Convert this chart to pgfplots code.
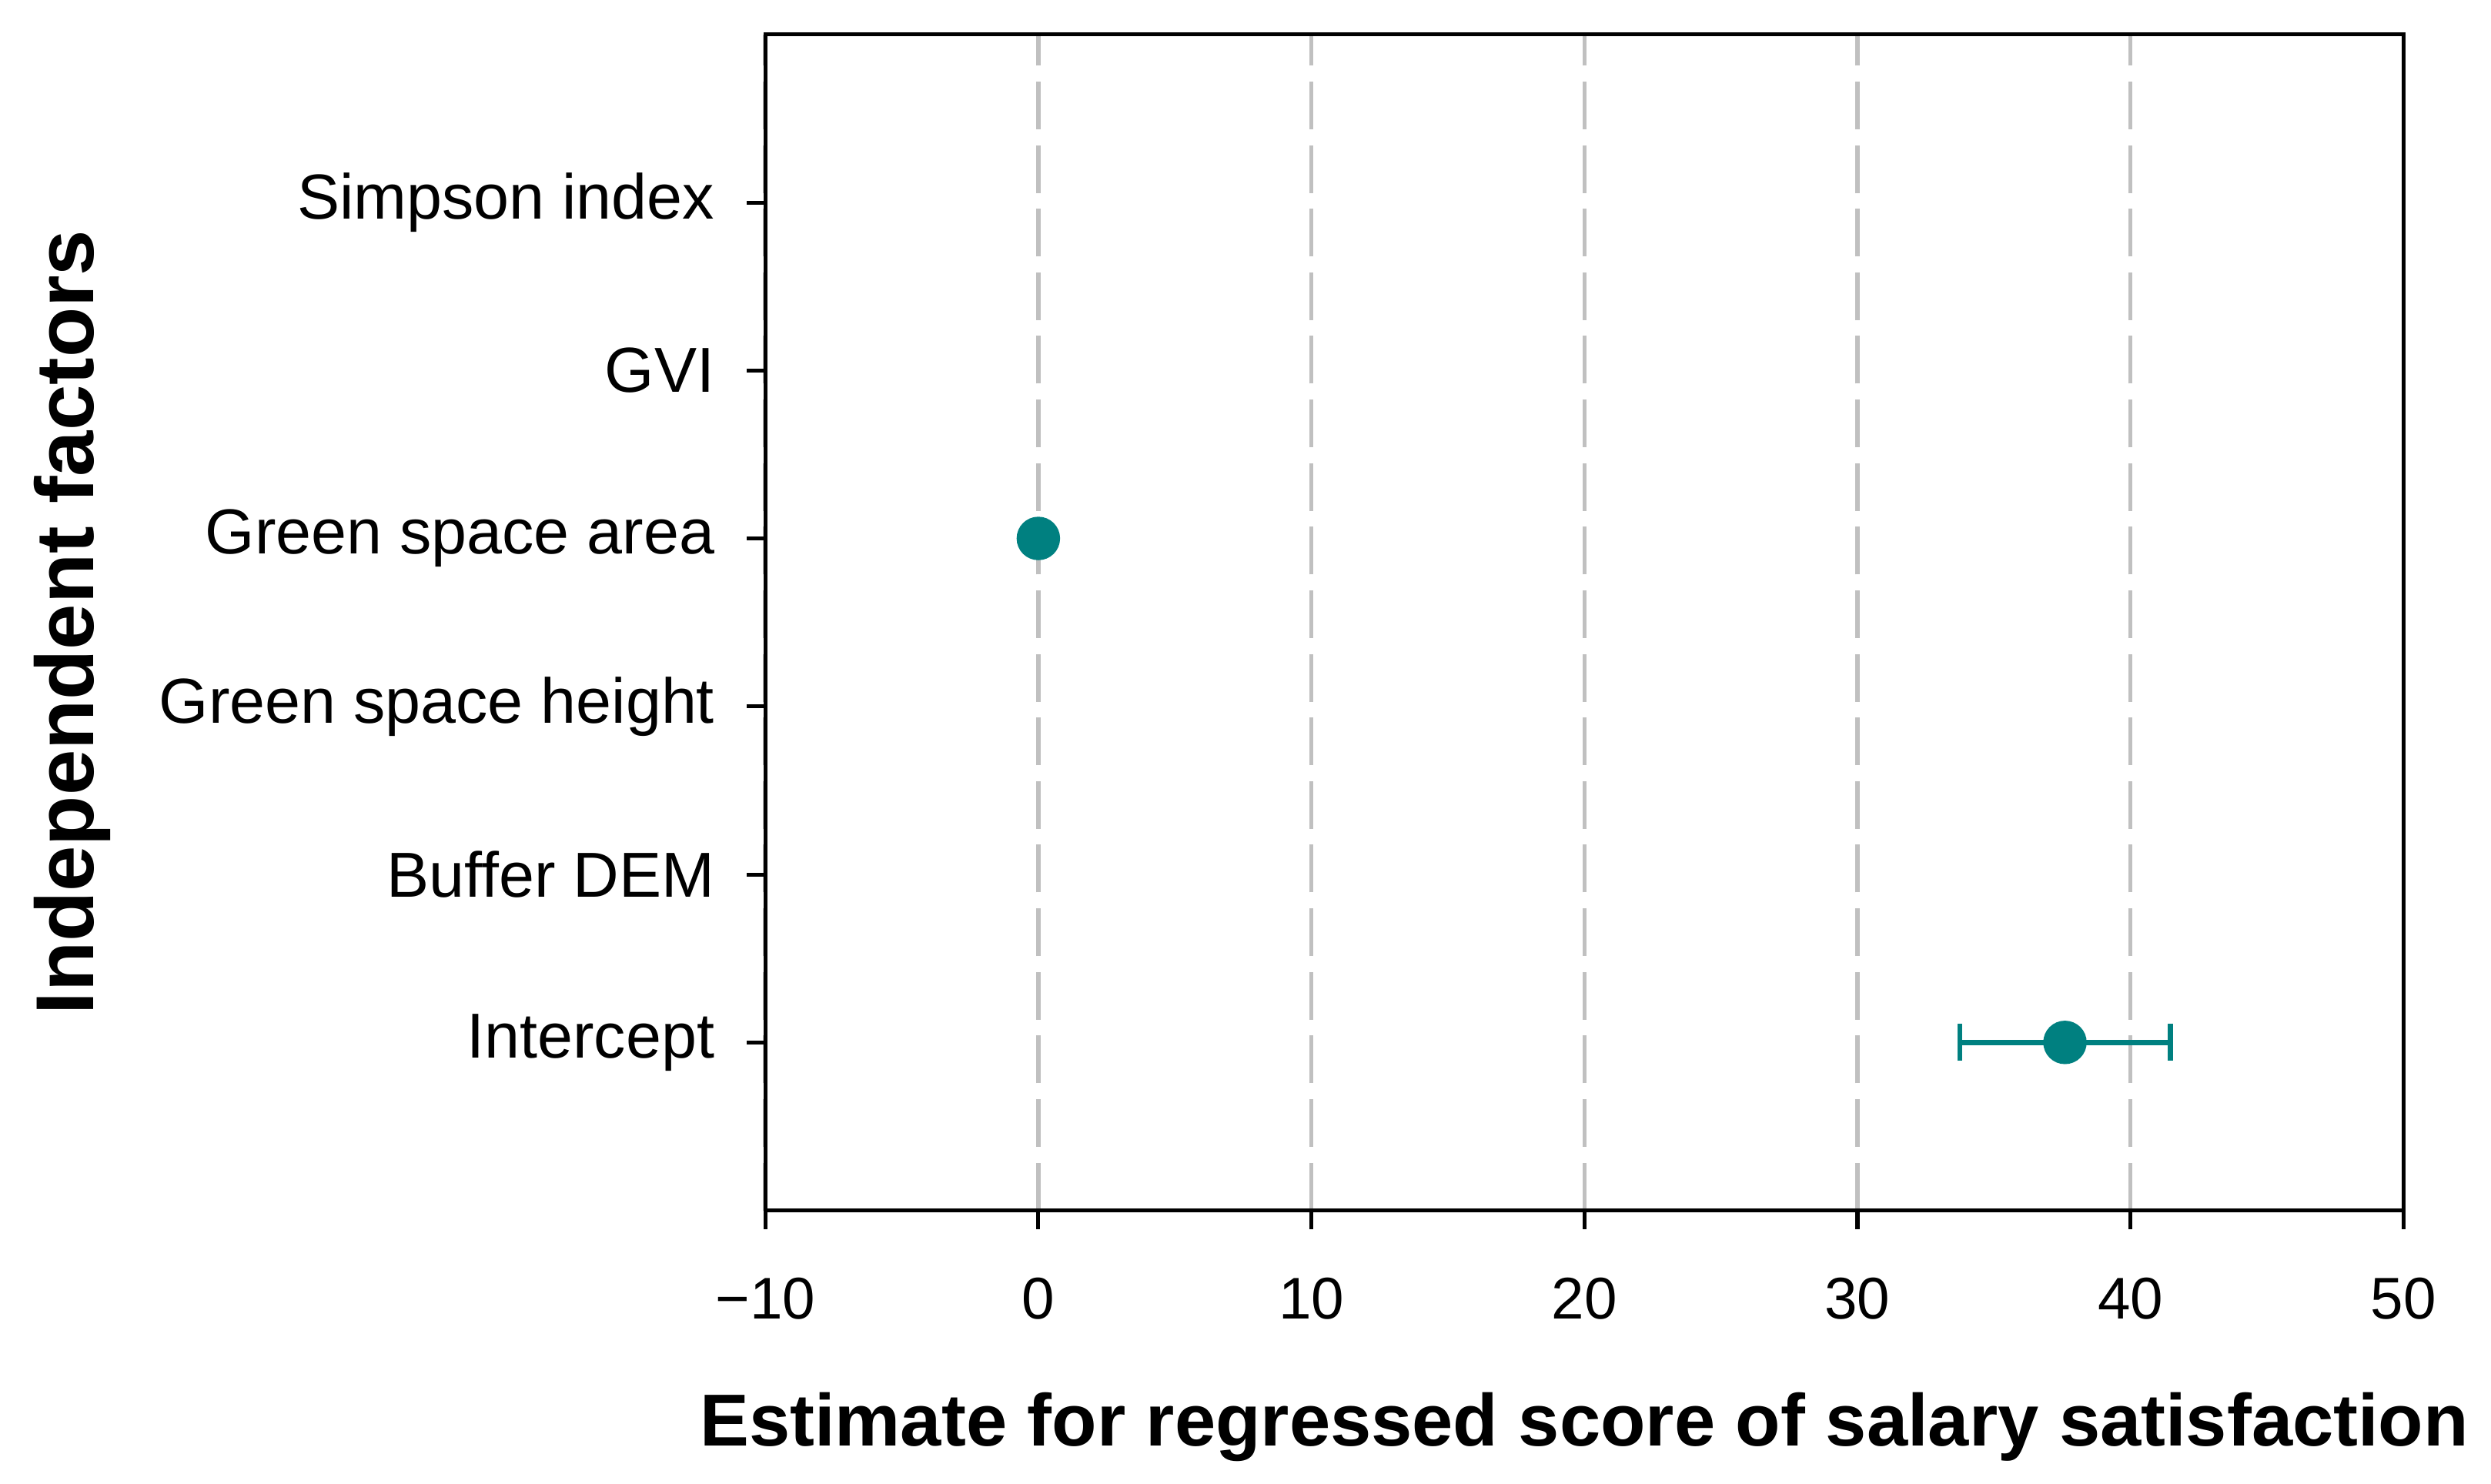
\documentclass[border=0pt]{standalone}
\usepackage{fontspec}
\setmainfont{Liberation Sans}
\usepackage{pgfplots}
\pgfplotsset{compat=1.18}
\definecolor{ptcol}{RGB}{0,128,128}
\definecolor{gridgray}{RGB}{192,192,192}

\begin{document}
\begin{tikzpicture}
	\useasboundingbox (-144.4pt,-51.6pt) rectangle (325.6pt,228.4pt);
	\begin{axis}[
		at={(0,0)}, anchor=south west,
		scale only axis,
		width=309.1pt, height=221.9pt,
		xmin=-10, xmax=50, ymin=0, ymax=7,
		xtick={-10,0,10,20,30,40,50},
		xticklabels={−10,0,10,20,30,40,50},
		ytick={1,2,3,4,5,6},
		yticklabels={Intercept,Buffer DEM,Green space height,Green space area,GVI,Simpson index},
		tick align=outside,
		xtick pos=bottom, ytick pos=left,
		major tick length=3.5pt,
		tick style={black, line width=0.73pt},
		axis line style={line width=0.75pt},
		xmajorgrids,
		major grid style={draw=gridgray, line width=0.8pt, dash pattern=on 9pt off 3pt},
		xticklabel style={font=\fontsize{11.1}{13}\selectfont, anchor=base, yshift=-17pt},
		yticklabel style={font=\fontsize{12}{14}\selectfont, anchor=east, inner sep=0pt, xshift=-5.9pt},
		xlabel={Estimate for regressed score of salary satisfaction},
		ylabel={Independent factors},
		xlabel style={at={(axis description cs:0.5,-0.2002)}, anchor=base,
			font=\bfseries\fontsize{13.9}{16}\selectfont},
		ylabel style={at={(axis description cs:-0.41,0.5)}, anchor=base,
			font=\bfseries\fontsize{15.5}{18}\selectfont},
		]
		% estimate, row, half-width of the interval
		\addplot[only marks, mark=*, mark size=3.9pt, color=ptcol,
		error bars/.cd, x dir=both, x explicit, error mark=|,
		error bar style={line width=1pt, ptcol},
		error mark options={mark size=3.5pt, line width=1pt, ptcol}]
		table[x=est, y=pos, x error=err] {
			est  pos err
			37.6 1   3.85
			0    4   0
		};
	\end{axis}
\end{tikzpicture}
\end{document}
